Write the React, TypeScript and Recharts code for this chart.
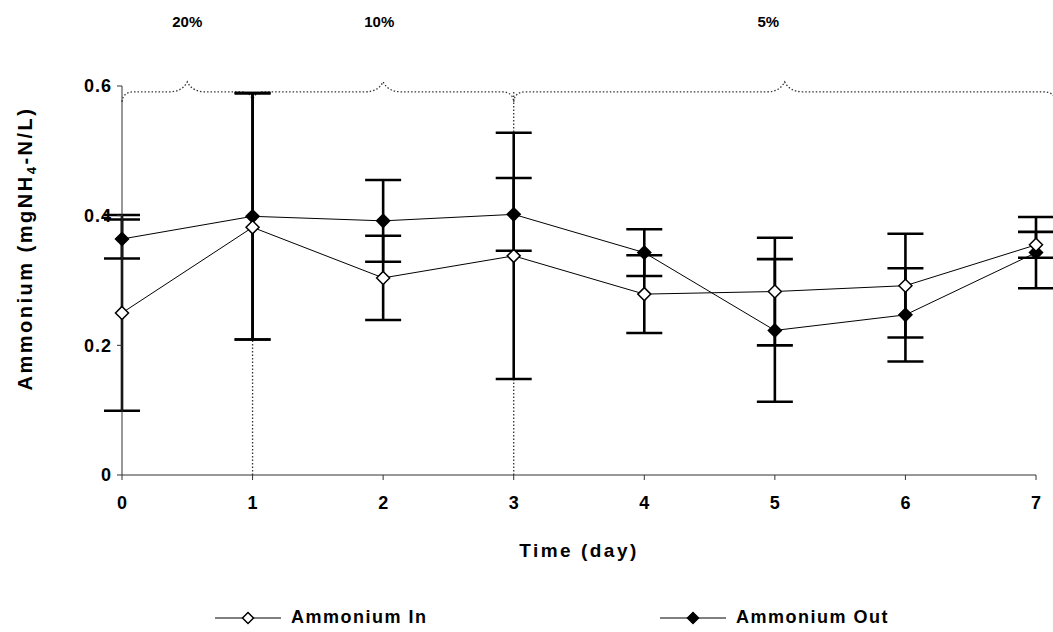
import React from 'react';
import { LineChart, Line, XAxis, YAxis, ErrorBar, ReferenceLine } from 'recharts';

const days = [0, 1, 2, 3, 4, 5, 6, 7];
const ammoniumIn = [0.25, 0.382, 0.304, 0.338, 0.279, 0.283, 0.292, 0.355];
const ammoniumInErr: (number | number[])[] = [0.151, [0.173, 0.207], 0.065, 0.19, 0.06, 0.083, 0.08, 0.02];
const ammoniumOut = [0.364, 0.399, 0.392, 0.402, 0.343, 0.223, 0.247, 0.343];
const ammoniumOutErr = [0.03, 0.19, 0.063, 0.056, 0.036, 0.11, 0.072, 0.055];
const yTicks = [0, 0.2, 0.4, 0.6];

const braces = [
  { from: 0, to: 1, label: '20%', labelAt: 0.5 },
  { from: 1, to: 3, label: '10%', labelAt: 1.97 },
  { from: 3, to: 7.15, label: '5%', labelAt: 4.95 },
];
const braceLevel = 0.591;
const dividers = [
  { x: 1, top: 0.585 },
  { x: 3, top: 0.591 },
];

const series = [
  { key: 'out', errKey: 'outErr', name: 'Ammonium Out', filled: true },
  { key: 'in', errKey: 'inErr', name: 'Ammonium In', filled: false },
];
const legendOrder = ['in', 'out'];

const data = days.map((d, i) => ({
  day: d,
  in: ammoniumIn[i],
  inErr: ammoniumInErr[i],
  out: ammoniumOut[i],
  outErr: ammoniumOutErr[i],
}));

const FONT = '"Liberation Sans", Arial, Helvetica, sans-serif';

const diamond = (filled: boolean) => (props: any) => {
  const { cx, cy, index } = props;
  if (cx == null || cy == null) return <g key={`d-${index}`} />;
  const r = 6.5;
  return (
    <path
      key={`d-${index}`}
      d={`M${cx},${cy - r} L${cx + r},${cy} L${cx},${cy + r} L${cx - r},${cy} Z`}
      fill={filled ? '#000' : '#fff'}
      stroke="#000"
      strokeWidth={1.5}
    />
  );
};

const braceShape = (b: { from: number; to: number; label: string; labelAt: number }) => (props: any) => {
  const { x1, y1, x2 } = props;
  const y = y1;
  const xm = (x1 + x2) / 2;
  const lx = x1 + ((b.labelAt - b.from) / (b.to - b.from)) * (x2 - x1);
  const d = `M${x1},${y + 10} Q${x1 + 1},${y} ${x1 + 12},${y} L${xm - 18},${y} Q${xm - 5},${y} ${xm},${y - 10} Q${xm + 5},${y} ${xm + 18},${y} L${x2 - 12},${y} Q${x2 - 1},${y} ${x2},${y + 10}`;
  return (
    <g>
      <path d={d} fill="none" stroke="#333" strokeWidth={1.3} strokeDasharray="1.5 2" />
      <text x={lx} y={y - 65} textAnchor="middle" fontFamily={FONT} fontWeight="bold" fontSize={15} fill="#000">
        {b.label}
      </text>
    </g>
  );
};

const YTitle = (props: any) => {
  const { viewBox } = props;
  const x = viewBox.x + 25;
  const y = viewBox.y + viewBox.height / 2 - 32;
  return (
    <text
      x={x}
      y={y}
      transform={`rotate(-90, ${x}, ${y})`}
      textAnchor="middle"
      dominantBaseline="central"
      fontFamily={FONT}
      fontWeight="bold"
      fontSize={20}
      letterSpacing={2.5}
      fill="#000"
    >
      Ammonium (mgNH
      <tspan fontSize={13} dy={6}>4</tspan>
      <tspan dy={-6}>-N/L)</tspan>
    </text>
  );
};

const LegendIcon = ({ filled }: { filled: boolean }) => (
  <svg width={66} height={16} style={{ display: 'block' }}>
    <line x1={0} y1={8} x2={66} y2={8} stroke="#000" strokeWidth={1} />
    <path d="M33,2.5 L38.5,8 L33,13.5 L27.5,8 Z" fill={filled ? '#000' : '#fff'} stroke="#000" strokeWidth={1.5} />
  </svg>
);

const legendLeft: Record<string, number> = { in: 215, out: 660 };

const tickStyle = { fill: '#000', fontFamily: FONT, fontWeight: 'bold', fontSize: 18 } as any;

export default function App() {
  return (
    <div style={{ position: 'absolute', left: 0, top: 0, width: 1053, height: 632, background: '#fff' }}>
      <LineChart width={1053} height={632} data={data} margin={{ top: 86, right: 17, bottom: 72, left: 0 }}>
        <XAxis
          dataKey="day"
          type="number"
          domain={[0, 7]}
          ticks={days}
          height={85}
          stroke="#333"
          tickSize={5}
          tickMargin={16}
          tick={tickStyle}
          label={{
            value: 'Time (day)',
            position: 'insideBottom',
            offset: 3,
            style: { fill: '#000', fontFamily: FONT, fontWeight: 'bold', fontSize: 19, letterSpacing: 2.5 },
          }}
        />
        <YAxis
          type="number"
          domain={[0, 0.6]}
          ticks={yTicks}
          width={122}
          stroke="#333"
          tickSize={5}
          tickMargin={5}
          tick={{ ...tickStyle, letterSpacing: 1 }}
          label={<YTitle />}
        />
        {dividers.map((dv) => (
          <ReferenceLine
            key={`div-${dv.x}`}
            segment={[{ x: dv.x, y: 0 }, { x: dv.x, y: dv.top }]}
            stroke="#333"
            strokeWidth={1.3}
            strokeDasharray="1.5 2"
            ifOverflow="visible"
          />
        ))}
        {braces.map((b) => (
          <ReferenceLine
            key={`brace-${b.label}`}
            segment={[{ x: b.from, y: braceLevel }, { x: b.to, y: braceLevel }]}
            ifOverflow="visible"
            shape={braceShape(b)}
          />
        ))}
        {series.map((s) => (
          <Line
            key={s.key}
            dataKey={s.key}
            name={s.name}
            type="linear"
            stroke="#000"
            strokeWidth={1}
            dot={diamond(s.filled)}
            activeDot={false}
            isAnimationActive={false}
          >
            <ErrorBar dataKey={s.errKey} width={18} strokeWidth={2.6} stroke="#000" direction="y" />
          </Line>
        ))}
      </LineChart>
      {legendOrder.map((k) => {
        const s = series.find((x) => x.key === k)!;
        return (
          <div
            key={k}
            style={{
              position: 'absolute',
              left: legendLeft[k],
              top: 607,
              display: 'flex',
              alignItems: 'center',
              gap: 10,
              fontFamily: FONT,
              fontWeight: 'bold',
              fontSize: 18,
              letterSpacing: 1.5,
              color: '#000',
              whiteSpace: 'nowrap',
            }}
          >
            <LegendIcon filled={s.filled} />
            <span>{s.name}</span>
          </div>
        );
      })}
    </div>
  );
}
